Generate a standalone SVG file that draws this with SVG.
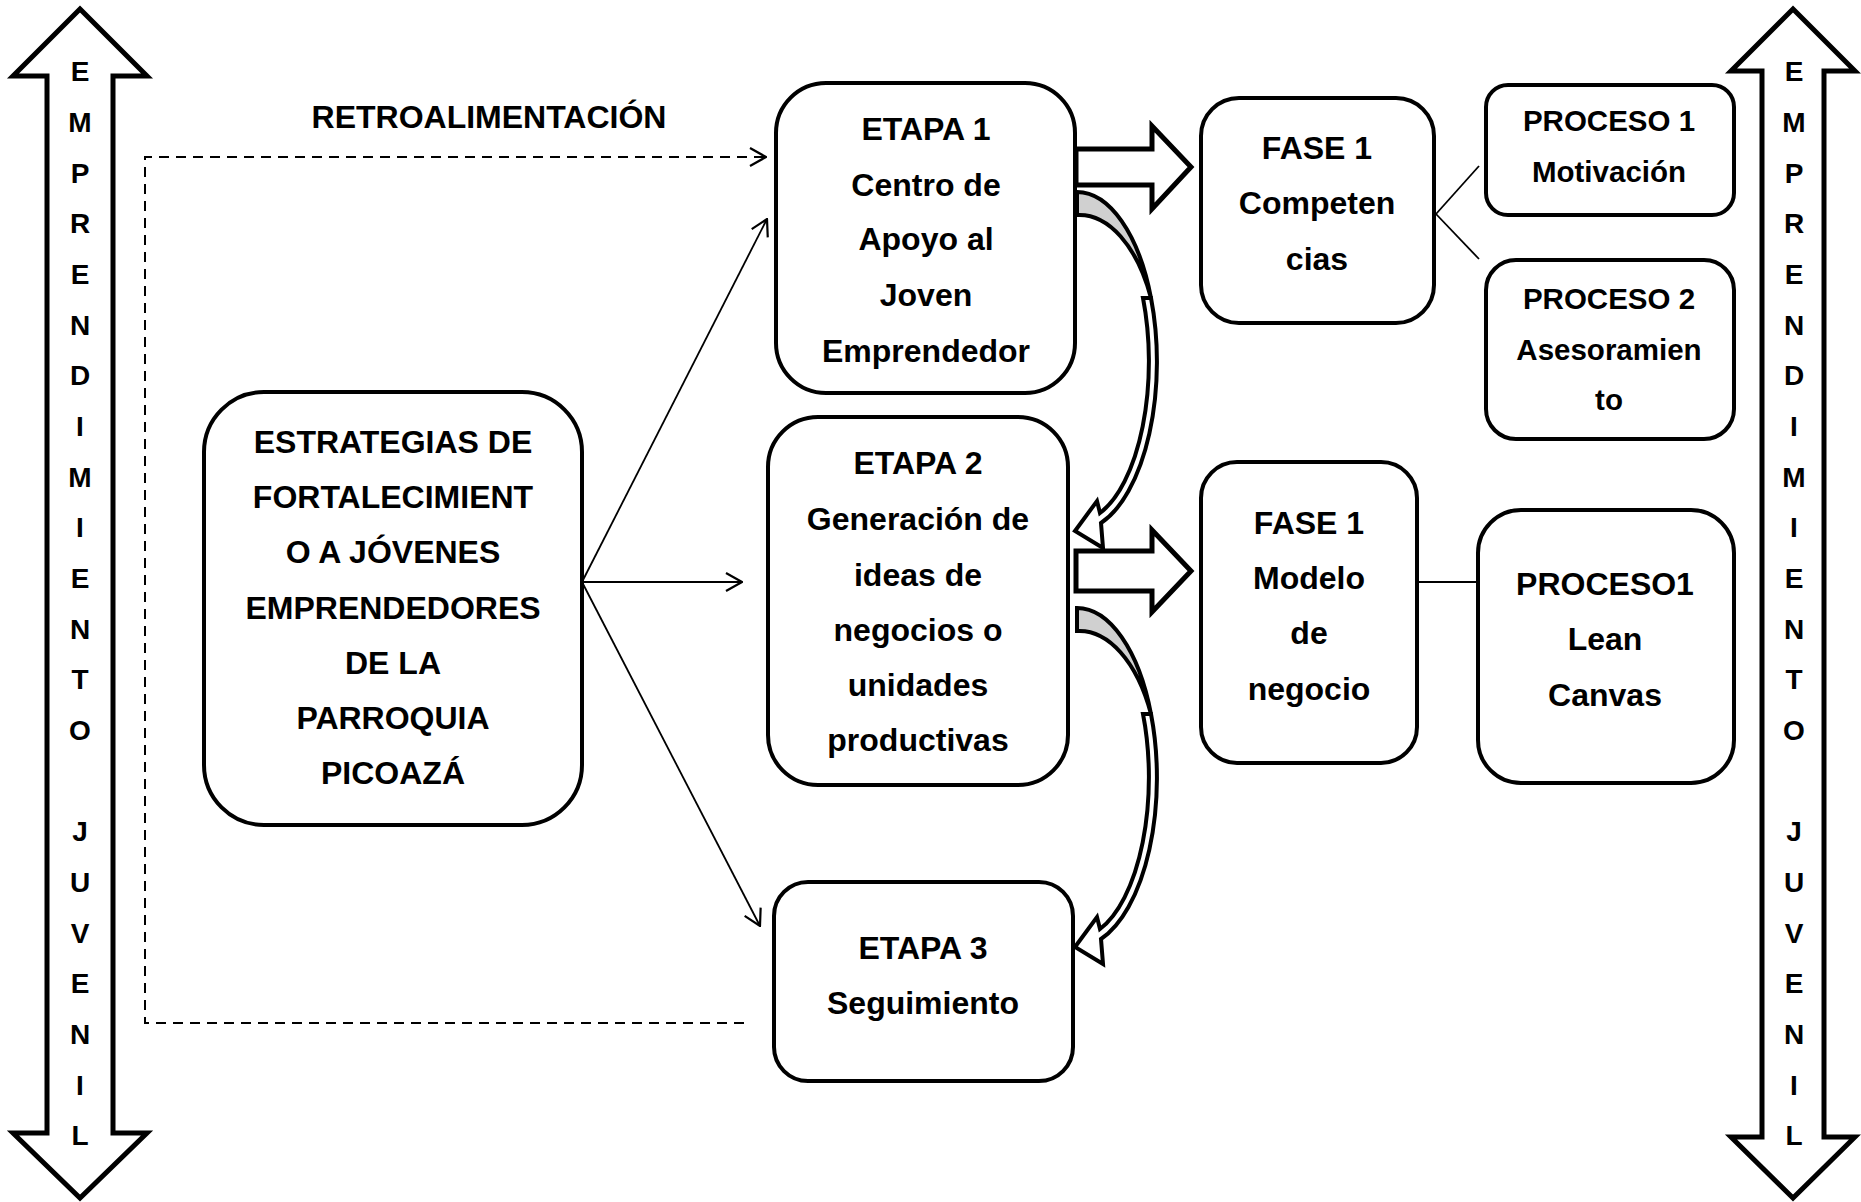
<svg xmlns="http://www.w3.org/2000/svg" width="1861" height="1202" viewBox="0 0 1861 1202">
<style>
.box{fill:#fff;stroke:#000;stroke-width:4}
.t{font-family:"Liberation Sans",Arial,sans-serif;font-weight:bold;font-size:32px;fill:#000;text-anchor:middle}
.ts{font-size:29.5px}
.tv{font-family:"Liberation Sans",Arial,sans-serif;font-weight:bold;font-size:28px;fill:#000;text-anchor:middle}
.big{fill:#fff;stroke:#000;stroke-width:5;stroke-linejoin:miter}
.blk{fill:#fff;stroke:#000;stroke-width:5;stroke-linejoin:miter}
.thin{fill:none;stroke:#000;stroke-width:1.8}
.dash{fill:none;stroke:#000;stroke-width:2;stroke-dasharray:10 7}
.crv{stroke:#000;stroke-width:4;stroke-linejoin:miter}
</style>
<defs>
<marker id="ah" viewBox="0 0 18 20" refX="17" refY="10" markerWidth="18" markerHeight="20" markerUnits="userSpaceOnUse" orient="auto">
<path d="M1,1 L17,10 L1,19" fill="none" stroke="#000" stroke-width="2.2"/>
</marker>
<g id="curve">
<path class="crv" fill="#d0d0d0" d="M1077,192 A80,169 0 0 1 1151,298 A80,150 0 0 0 1077,215 Z"/>
<path class="crv" fill="#fff" d="M1075,531 L1097,501 L1100,513 A72,160 0 0 0 1143,298 L1151,298 A80,169 0 0 1 1101,523 L1103,548 Z"/>
</g>
</defs>
<rect width="1861" height="1202" fill="#fff"/>

<g id="arrow-left">
<path class="big" d="M80,9 L147,76 L113,76 L113,1133 L147,1133 L80,1198 L13,1133 L47,1133 L47,76 L13,76 Z"/>
<text class="tv"><tspan x="80" y="81">E</tspan><tspan x="80" y="132">M</tspan><tspan x="80" y="183">P</tspan><tspan x="80" y="233">R</tspan><tspan x="80" y="284">E</tspan><tspan x="80" y="335">N</tspan><tspan x="80" y="385">D</tspan><tspan x="80" y="436">I</tspan><tspan x="80" y="487">M</tspan><tspan x="80" y="537">I</tspan><tspan x="80" y="588">E</tspan><tspan x="80" y="639">N</tspan><tspan x="80" y="689">T</tspan><tspan x="80" y="740">O</tspan><tspan x="80" y="841">J</tspan><tspan x="80" y="892">U</tspan><tspan x="80" y="943">V</tspan><tspan x="80" y="993">E</tspan><tspan x="80" y="1044">N</tspan><tspan x="80" y="1095">I</tspan><tspan x="80" y="1145">L</tspan></text>
</g>

<g id="arrow-right">
<path class="big" d="M1793,9 L1855,71 L1824,71 L1824,1137 L1855,1137 L1793,1198 L1731,1137 L1762,1137 L1762,71 L1731,71 Z"/>
<text class="tv"><tspan x="1794" y="81">E</tspan><tspan x="1794" y="132">M</tspan><tspan x="1794" y="183">P</tspan><tspan x="1794" y="233">R</tspan><tspan x="1794" y="284">E</tspan><tspan x="1794" y="335">N</tspan><tspan x="1794" y="385">D</tspan><tspan x="1794" y="436">I</tspan><tspan x="1794" y="487">M</tspan><tspan x="1794" y="537">I</tspan><tspan x="1794" y="588">E</tspan><tspan x="1794" y="639">N</tspan><tspan x="1794" y="689">T</tspan><tspan x="1794" y="740">O</tspan><tspan x="1794" y="841">J</tspan><tspan x="1794" y="892">U</tspan><tspan x="1794" y="943">V</tspan><tspan x="1794" y="993">E</tspan><tspan x="1794" y="1044">N</tspan><tspan x="1794" y="1095">I</tspan><tspan x="1794" y="1145">L</tspan></text>
</g>

<g id="label-retro">
<text class="t" x="489" y="128">RETROALIMENTACIÓN</text>
</g>

<g id="connectors">
<path class="dash" d="M744,1023 L145,1023 L145,157 L766,157" marker-end="url(#ah)"/>
<line class="thin" x1="582" y1="582" x2="767" y2="219" marker-end="url(#ah)"/>
<line class="thin" x1="582" y1="582" x2="742" y2="582" marker-end="url(#ah)"/>
<line class="thin" x1="582" y1="582" x2="760" y2="926" marker-end="url(#ah)"/>
<path class="blk" d="M1076,149 L1152,149 L1152,126 L1191,167 L1152,209 L1152,185 L1076,185 Z"/>
<path class="blk" d="M1076,551 L1152,551 L1152,530 L1191,571 L1152,612 L1152,591 L1076,591 Z"/>
<use href="#curve"/>
<use href="#curve" transform="translate(0,416)"/>
<line class="thin" x1="1436" y1="214" x2="1479" y2="166"/>
<line class="thin" x1="1436" y1="214" x2="1479" y2="259"/>
<line class="thin" x1="1417" y1="582" x2="1478" y2="582"/>
</g>

<g id="node-estrategias">
<rect class="box" x="204" y="392" width="378" height="433" rx="60"/>
<text class="t"><tspan x="393" y="453">ESTRATEGIAS DE</tspan><tspan x="393" y="508">FORTALECIMIENT</tspan><tspan x="393" y="563">O A JÓVENES</tspan><tspan x="393" y="619">EMPRENDEDORES</tspan><tspan x="393" y="674">DE LA</tspan><tspan x="393" y="729">PARROQUIA</tspan><tspan x="393" y="784">PICOAZÁ</tspan></text>
</g>

<g id="node-etapa1">
<rect class="box" x="776" y="83" width="299" height="310" rx="50"/>
<text class="t"><tspan x="926" y="140">ETAPA 1</tspan><tspan x="926" y="196">Centro de</tspan><tspan x="926" y="250">Apoyo al</tspan><tspan x="926" y="306">Joven</tspan><tspan x="926" y="362">Emprendedor</tspan></text>
</g>

<g id="node-etapa2">
<rect class="box" x="768" y="417" width="300" height="368" rx="50"/>
<text class="t"><tspan x="918" y="474">ETAPA 2</tspan><tspan x="918" y="530">Generación de</tspan><tspan x="918" y="586">ideas de</tspan><tspan x="918" y="641">negocios o</tspan><tspan x="918" y="696">unidades</tspan><tspan x="918" y="751">productivas</tspan></text>
</g>

<g id="node-etapa3">
<rect class="box" x="774" y="882" width="299" height="199" rx="34"/>
<text class="t"><tspan x="923" y="959">ETAPA 3</tspan><tspan x="923" y="1014">Seguimiento</tspan></text>
</g>

<g id="node-fase1-top">
<rect class="box" x="1201" y="98" width="233" height="225" rx="38"/>
<text class="t"><tspan x="1317" y="159">FASE 1</tspan><tspan x="1317" y="214">Competen</tspan><tspan x="1317" y="270">cias</tspan></text>
</g>

<g id="node-fase1-bottom">
<rect class="box" x="1201" y="462" width="216" height="301" rx="36"/>
<text class="t"><tspan x="1309" y="534">FASE 1</tspan><tspan x="1309" y="589">Modelo</tspan><tspan x="1309" y="644">de</tspan><tspan x="1309" y="700">negocio</tspan></text>
</g>

<g id="node-proceso1">
<rect class="box" x="1486" y="85" width="248" height="130" rx="22"/>
<text class="t ts"><tspan x="1609" y="131">PROCESO 1</tspan><tspan x="1609" y="182">Motivación</tspan></text>
</g>

<g id="node-proceso2">
<rect class="box" x="1486" y="260" width="248" height="179" rx="30"/>
<text class="t ts"><tspan x="1609" y="309">PROCESO 2</tspan><tspan x="1609" y="360">Asesoramien</tspan><tspan x="1609" y="410">to</tspan></text>
</g>

<g id="node-proceso-lean">
<rect class="box" x="1478" y="510" width="256" height="273" rx="43"/>
<text class="t"><tspan x="1605" y="595">PROCESO1</tspan><tspan x="1605" y="650">Lean</tspan><tspan x="1605" y="706">Canvas</tspan></text>
</g>
</svg>
